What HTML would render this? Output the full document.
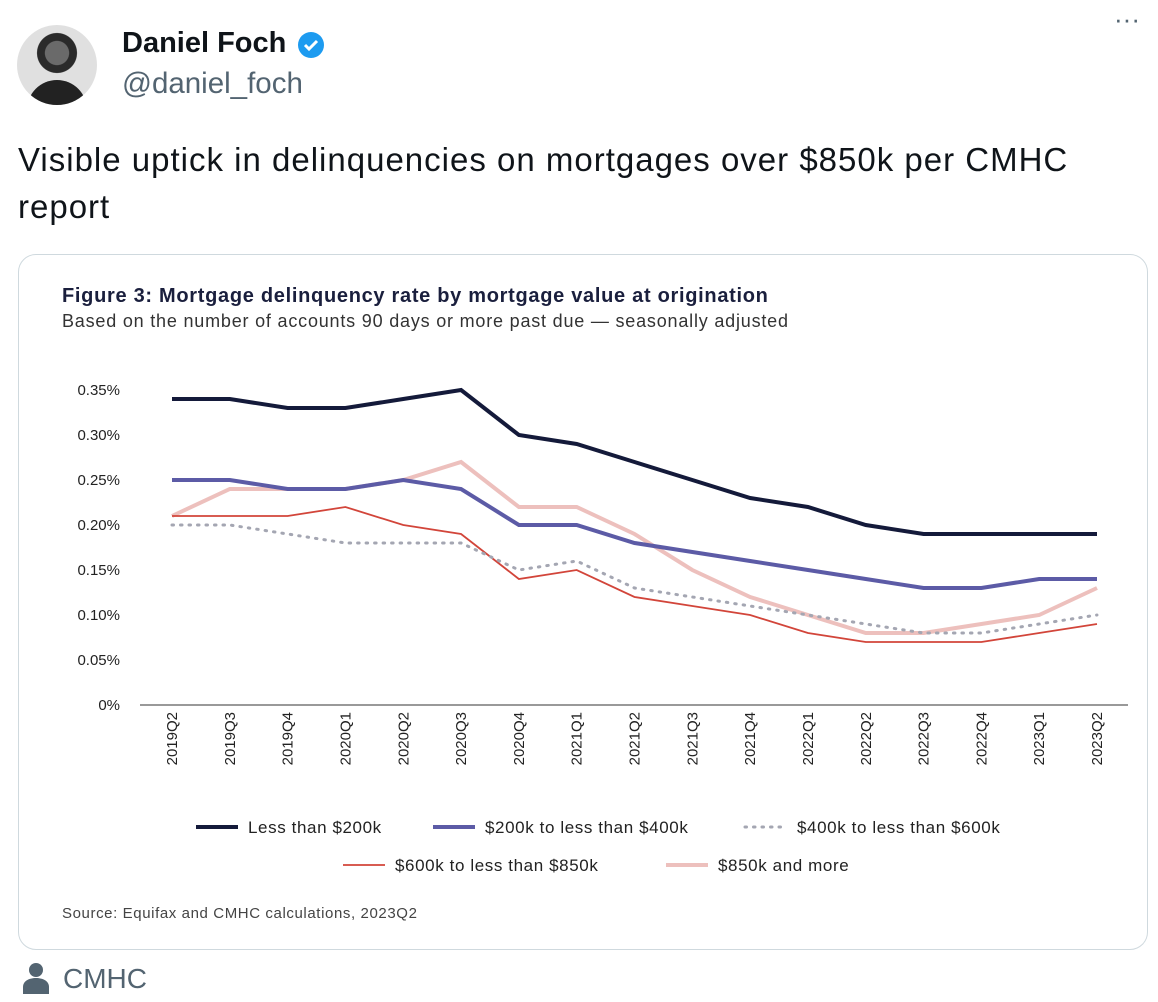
<!DOCTYPE html>
<html><head><meta charset="utf-8"><style>
body{margin:0;width:1158px;height:1002px;background:#fff;font-family:"Liberation Sans",sans-serif;position:relative;overflow:hidden}
.a{position:absolute;white-space:nowrap}
</style></head><body>
<div class="a" style="left:17px;top:25px;width:80px;height:80px;border-radius:50%;background:radial-gradient(circle at 50% 35%,#6a6a6a 0 18%,#2a2a2a 19% 30%,#e0e0e0 31%);overflow:hidden"><div style="position:absolute;left:10px;top:55px;width:60px;height:30px;background:#222;border-radius:30px 30px 0 0"></div></div>
<div class="a" style="left:122px;top:27px;font-size:29px;font-weight:bold;color:#0f1419">Daniel Foch</div>
<svg class="a" style="left:296px;top:30px" width="30" height="30" viewBox="0 0 30 30"><circle cx="15" cy="15" r="13" fill="#1d9bf0"/><path d="M9 15l4 4 8-8" stroke="#fff" stroke-width="3" fill="none"/></svg>
<div class="a" style="left:122px;top:67px;font-size:29.5px;color:#536471">@daniel_foch</div>
<div class="a" style="left:1114px;top:4px;font-size:26px;color:#536471">···</div>
<div class="a" style="left:18px;top:136px;font-size:33px;letter-spacing:1px;line-height:47px;color:#0f1419;white-space:normal;width:1130px">Visible uptick in delinquencies on mortgages over $850k per CMHC<br>report</div>
<div class="a" style="left:18px;top:254px;width:1128px;height:694px;border:1px solid #cfd9de;border-radius:18px"></div>
<div class="a" style="left:62px;top:285px;font-size:20px;letter-spacing:0.7px;font-weight:bold;color:#1a1f3d">Figure 3: Mortgage delinquency rate by mortgage value at origination</div>
<div class="a" style="left:62px;top:311px;font-size:18px;letter-spacing:0.8px;color:#333">Based on the number of accounts 90 days or more past due — seasonally adjusted</div>
<svg class="a" id="chart" style="left:0;top:0" width="1158" height="1002"></svg>
<div class="a" style="left:62px;top:905px;font-size:15px;letter-spacing:0.6px;color:#444">Source: Equifax and CMHC calculations, 2023Q2</div>
<svg class="a" style="left:22px;top:962px" width="28" height="32" viewBox="0 0 28 32"><circle cx="14" cy="8" r="7" fill="#536471"/><path d="M1 32v-7c0-6 6-9 13-9s13 3 13 9v7z" fill="#536471"/></svg>
<div class="a" style="left:63px;top:963px;font-size:28px;color:#536471">CMHC</div>
<script>
const categories=["2019Q2","2019Q3","2019Q4","2020Q1","2020Q2","2020Q3","2020Q4","2021Q1","2021Q2","2021Q3","2021Q4","2022Q1","2022Q2","2022Q3","2022Q4","2023Q1","2023Q2"];
const yTicks=[0,0.05,0.10,0.15,0.20,0.25,0.30,0.35];
const yTickLabels=["0%","0.05%","0.10%","0.15%","0.20%","0.25%","0.30%","0.35%"];
const seriesNames=["Less than $200k","$200k to less than $400k","$400k to less than $600k","$600k to less than $850k","$850k and more"];
const s1=[.34,.34,.33,.33,.34,.35,.30,.29,.27,.25,.23,.22,.20,.19,.19,.19,.19];
const s2=[.25,.25,.24,.24,.25,.24,.20,.20,.18,.17,.16,.15,.14,.13,.13,.14,.14];
const s3=[.20,.20,.19,.18,.18,.18,.15,.16,.13,.12,.11,.10,.09,.08,.08,.09,.10];
const s4=[.21,.21,.21,.22,.20,.19,.14,.15,.12,.11,.10,.08,.07,.07,.07,.08,.09];
const s5=[.21,.24,.24,.24,.25,.27,.22,.22,.19,.15,.12,.10,.08,.08,.09,.10,.13];
const svg=document.getElementById('chart');const NS='http://www.w3.org/2000/svg';
const x=i=>172+i*(1097-172)/(categories.length-1);
const y=v=>705-v*(705-390)/0.35;
function mk(t,a){const e=document.createElementNS(NS,t);for(const k in a)e.setAttribute(k,a[k]);svg.appendChild(e);return e;}
yTicks.forEach((v,i)=>{const t=mk('text',{x:120,y:y(v)+5,'text-anchor':'end','font-size':15,fill:'#222'});t.textContent=yTickLabels[i];

});
const ax=mk('line',{x1:140,x2:1128,y1:705,y2:705,stroke:'#333','stroke-width':1});


categories.forEach((c,i)=>{const t=mk('text',{transform:`translate(${x(i)+5},712) rotate(-90)`,'text-anchor':'end','font-size':15,fill:'#222'});t.textContent=c;

});
const styles=[{c:'#141a3a',w:4,d:''},{c:'#5c5ba6',w:4,d:''},{c:'#a4a6b2',w:3,d:'1.5 7'},{c:'#d2453a',w:1.8,d:''},{c:'#edc0bd',w:4,d:''}];
const data=[s1,s2,s3,s4,s5];const order=[4,3,2,1,0];
order.forEach(k=>{const st=styles[k];const p=mk('polyline',{points:data[k].map((v,i)=>x(i)+','+y(v)).join(' '),fill:'none',stroke:st.c,'stroke-width':st.w,'stroke-dasharray':st.d,'stroke-linecap':st.d?'round':'butt'});

});
const leg=[[196,827],[433,827],[745,827],[343,865],[666,865]];
leg.forEach((p,k)=>{const st=styles[k];const l=mk('line',{x1:p[0],x2:p[0]+42,y1:p[1],y2:p[1],stroke:st.c,'stroke-width':st.w,'stroke-dasharray':st.d,'stroke-linecap':st.d?'round':'butt'});


const t=mk('text',{x:p[0]+52,y:p[1]+6,'font-size':17,'letter-spacing':0.6,fill:'#222'});t.textContent=seriesNames[k];

});
</script>
</body></html>
